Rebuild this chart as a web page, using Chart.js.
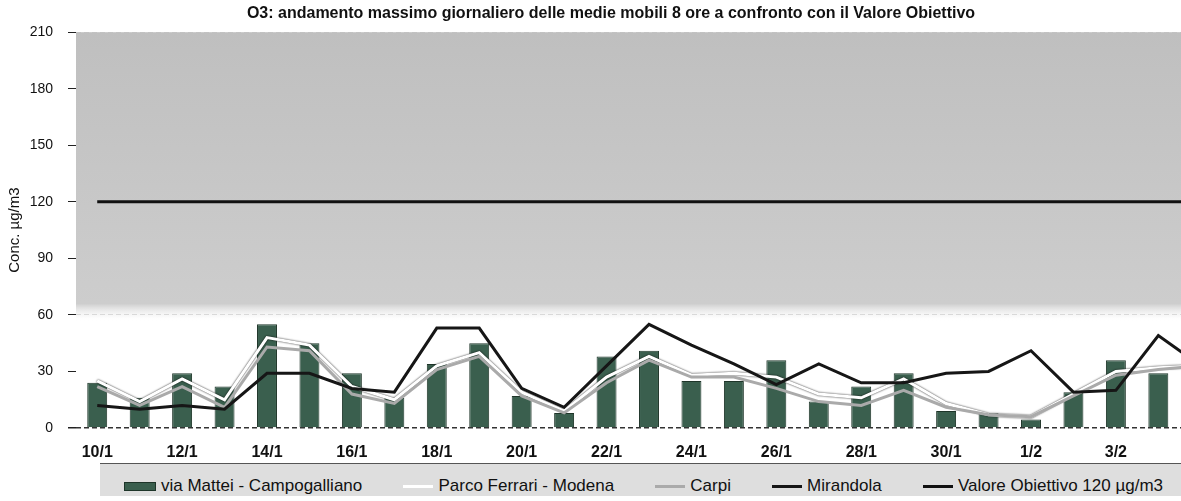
<!DOCTYPE html>
<html lang="it">
<head>
<meta charset="utf-8">
<title>O3 - medie mobili 8 ore</title>
<script src="https://cdn.jsdelivr.net/npm/chart.js@4.4.1/dist/chart.umd.min.js"></script>
<style>
    html, body { margin: 0; padding: 0; background: #fff; overflow: hidden; }
    #wrap { position: relative; width: 1230px; height: 501px; }
    #band {
        position: absolute; left: 100px; top: 463px; width: 1130px; height: 32px;
        background: #dedede; border-top: 1.5px solid #555;
    }
    #legend {
        position: absolute; left: 124px; top: 476px; width: 1039px;
        display: flex; justify-content: space-between; align-items: center;
        font: 17px 'Liberation Sans', Arial, sans-serif; line-height: 20px; color: #111;
        white-space: nowrap;
    }
    #legend .mark { display: inline-block; width: 30px; margin-right: 5px; vertical-align: middle; }
    #legend .bx { height: 7px; border: 1px solid; }
    #legend .ln { height: 3px; }
</style>
</head>
<body>
<div id="wrap">
    <canvas id="o3Chart" width="1230" height="501"></canvas>
    <div id="band"></div>
    <div id="legend"></div>
</div>
<script>
// Days (the last one, 5/2, falls just outside the visible area like in the scan)
const days = ['10/1', '11/1', '12/1', '13/1', '14/1', '15/1', '16/1', '17/1', '18/1', '19/1',
    '20/1', '21/1', '22/1', '23/1', '24/1', '25/1', '26/1', '27/1', '28/1', '29/1',
    '30/1', '31/1', '1/2', '2/2', '3/2', '4/2', '5/2'];

// Max daily 8h moving average, ug/m3
const viaMattei = [24, 16, 29, 22, 55, 45, 29, 16, 34, 45, 17, 8, 38, 41, 25, 25, 36, 14, 22, 29, 9, 8, 4.5, 19, 36, 29, null];
const parcoFerrari = [25, 14, 26, 15, 48, 44, 22, 15, 33, 40, 19, 9, 27, 38, 28, 29, 27, 18, 16, 26, 13, 7, 6, 18, 30, 32, 33];
const carpi = [22, 12, 22, 11, 43, 41, 18, 13, 31, 38, 17, 8, 24, 36, 27, 27, 21, 14, 12, 20, 11, 7, 6, 17, 28, 31, 33];
const mirandola = [12, 10, 12, 10, 29, 29, 21, 19, 53, 53, 21, 11, 33, 55, 44, 34, 23, 34, 24, 24, 29, 30, 41, 19, 20, 49, 33];
const valoreObiettivo = days.map(() => 120);

const yTicks = [0, 30, 60, 90, 120, 150, 180, 210];

const FONT = "'Liberation Sans', Arial, sans-serif";

// gray scanned background in the upper part of the plot
const backdropPlugin = {
    id: 'backdrop',
    beforeDatasetsDraw(chart) {
        const { ctx, chartArea: a, scales } = chart;
        const yFade = scales.y.getPixelForValue(56);
        const yGray = scales.y.getPixelForValue(66);
        ctx.save();
        const g = ctx.createLinearGradient(0, a.top, 0, yFade);
        g.addColorStop(0, '#bfbfbf');
        g.addColorStop((yGray - a.top) / (yFade - a.top), '#cdcdcd');
        g.addColorStop(1, 'rgba(255,255,255,0)');
        ctx.fillStyle = g;
        ctx.fillRect(a.left, a.top, a.right - a.left, yFade - a.top);
        ctx.restore();
    }
};

// dark rim around the white line, like on the photocopy
const outlinePlugin = {
    id: 'outline',
    beforeDatasetDraw(chart, args) {
        if (args.meta.label !== 'Parco Ferrari - Modena') return;
        chart.ctx.save();
        chart.ctx.shadowColor = 'rgba(0,0,0,0.9)';
        chart.ctx.shadowBlur = 2;
    },
    afterDatasetDraw(chart, args) {
        if (args.meta.label !== 'Parco Ferrari - Modena') return;
        chart.ctx.restore();
    }
};

const lineDs = (label, data, color, width, order) => ({
    type: 'line',
    label: label,
    data: data,
    borderColor: color,
    backgroundColor: color,
    borderWidth: width,
    pointRadius: 0,
    tension: 0,
    order: order
});

const chart = new Chart(document.getElementById('o3Chart'), {
    type: 'bar',
    data: {
        labels: days,
        datasets: [
            {
                label: 'via Mattei - Campogalliano',
                data: viaMattei,
                backgroundColor: '#3a5f4e',
                borderColor: '#1e3529',
                borderWidth: 1,
                categoryPercentage: 1,
                barPercentage: 0.47,
                order: 5
            },
            lineDs('Parco Ferrari - Modena', parcoFerrari, '#ffffff', 3, 3),
            lineDs('Carpi', carpi, '#aaaaaa', 3, 2),
            lineDs('Mirandola', mirandola, '#161616', 3, 1),
            lineDs('Valore Obiettivo 120 \u00b5g/m3', valoreObiettivo, '#111111', 3, 0)
        ]
    },
    options: {
        responsive: false,
        animation: false,
        layout: { padding: { left: 0, right: 8, top: 0, bottom: 43 } },
        plugins: {
            title: {
                display: true,
                text: 'O3: andamento massimo giornaliero delle medie mobili 8 ore a confronto con il Valore Obiettivo',
                color: '#111',
                font: { family: FONT, size: 16, weight: 'bold' },
                padding: { top: 4, bottom: 9 }
            },
            legend: { display: false },
            tooltip: { enabled: false }
        },
        scales: {
            x: {
                grid: { display: false },
                border: { display: false },
                ticks: {
                    autoSkip: false,
                    maxRotation: 0,
                    padding: 7,
                    color: '#111',
                    font: { family: FONT, size: 16, weight: 'bold' },
                    callback: (v, i) => (i % 2 === 0 ? days[i] : '')
                },
                afterFit: s => { s.height = 30; }
            },
            y: {
                min: 0,
                max: 210,
                afterBuildTicks: s => { s.ticks = yTicks.map(v => ({ value: v })); },
                title: {
                    display: true,
                    text: 'Conc. \u00b5g/m3',
                    color: '#111',
                    font: { family: FONT, size: 15 },
                    padding: { top: 6, bottom: 0 }
                },
                grid: {
                    color: c => {
                        if (!c.tick) return 'transparent';
                        if (c.tick.value === 0) return '#333';
                        return c.tick.value === 30 ? 'transparent' : 'rgba(0,0,0,0.2)';
                    },
                    tickColor: '#222',
                    tickLength: 8,
                    lineWidth: c => (c.tick && c.tick.value === 0 ? 1.5 : 1)
                },
                border: { display: false, dash: [5, 3] },
                ticks: {
                    padding: 15,
                    color: '#111',
                    font: { family: FONT, size: 14 }
                },
                afterFit: s => { s.width = 76; }
            }
        }
    },
    plugins: [backdropPlugin, outlinePlugin]
});

// legend row under the chart, built from the datasets
function buildLegend(chart) {
    const box = document.getElementById('legend');
    chart.data.datasets.forEach(ds => {
        const item = document.createElement('span');
        const mark = document.createElement('i');
        if (ds.type === 'line') {
            mark.className = 'mark ln';
            mark.style.background = ds.borderColor;
        } else {
            mark.className = 'mark bx';
            mark.style.background = ds.backgroundColor;
            mark.style.borderColor = ds.borderColor;
        }
        item.append(mark, document.createTextNode(ds.label));
        box.appendChild(item);
    });
}
buildLegend(chart);
</script>
</body>
</html>
